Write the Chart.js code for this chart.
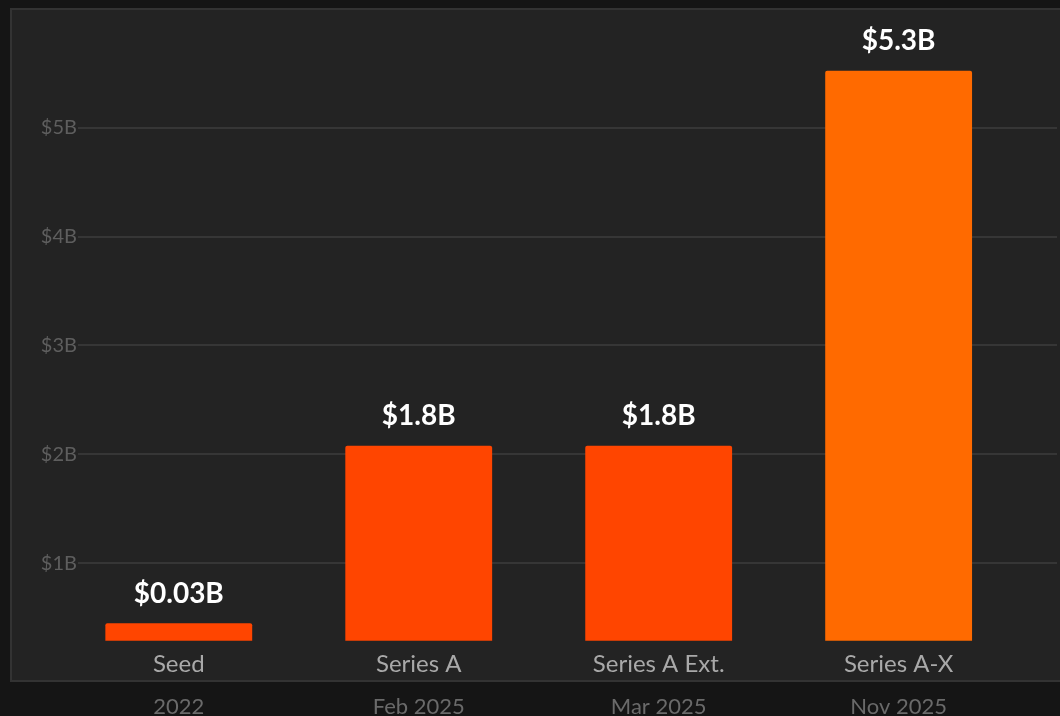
<!DOCTYPE html>
<html>
<head>
<meta charset="utf-8">
<script src="https://cdn.jsdelivr.net/npm/chart.js@4.4.0/dist/chart.umd.min.js"></script>
<style>
    html, body { margin: 0; padding: 0; background: #151515; overflow: hidden; }
    #tarjeta {
        position: absolute; left: 10px; top: 8px; width: 1070px; height: 674px;
        box-sizing: border-box; background: #232323; border: 2px solid #333;
    }
    #contenedor { position: absolute; left: 0; top: 0; width: 1060px; height: 740px; }
</style>
</head>
<body>
<div id="tarjeta"></div>
<div id="contenedor"><canvas id="grafico"></canvas></div>
<script>
// --- Datos ---
const rondas = ["Seed", "Series A", "Series A Ext.", "Series A-X"];
const fechas = ["2022", "Feb 2025", "Mar 2025", "Nov 2025"];
// altura de cada barra leida contra la rejilla en $B
const alturas = [0.45, 2.08, 2.08, 5.52];
const etiquetas = ["$0.03B", "$1.8B", "$1.8B", "$5.3B"];
const colores = ["#ff4500", "#ff4500", "#ff4500", "#ff6a00"];
const ticksY = [1, 2, 3, 4, 5];

const ticksRondas = escala => { escala.ticks = rondas.map((_, i) => ({ value: i })); };

// --- Etiquetas sobre las barras ---
const etiquetasValor = {
    id: "etiquetasValor",
    afterDatasetsDraw(chart) {
        const ctx = chart.ctx;
        ctx.save();
        ctx.fillStyle = "#ffffff";
        ctx.font = "bold 28px Lato";
        ctx.textAlign = "center";
        ctx.textBaseline = "alphabetic";
        chart.getDatasetMeta(0).data.forEach((barra, i) => {
            ctx.fillText(etiquetas[i], barra.x, barra.y - 20.5);
        });
        ctx.restore();
    }
};

// --- Grafico ---
new Chart(document.getElementById("grafico"), {
    type: "bar",
    data: {
        datasets: [{
            data: alturas.map((v, i) => ({ x: i, y: v })),
            backgroundColor: colores,
            borderRadius: 2,
            borderSkipped: false,
            categoryPercentage: 0.68,
            barPercentage: 0.9
        }]
    },
    plugins: [etiquetasValor],
    options: {
        responsive: true,
        maintainAspectRatio: false,
        animation: false,
        layout: { padding: { left: 41, right: 3, top: 24, bottom: 13 } },
        plugins: { legend: { display: false }, tooltip: { enabled: false } },
        scales: {
            x: {
                type: "linear",
                offset: false,
                min: -0.42,
                max: 3.66,
                afterBuildTicks: ticksRondas,
                grid: { display: false, drawTicks: false, offset: false },
                border: { display: false },
                ticks: {
                    maxRotation: 0,
                    autoSkip: false,
                    padding: 9,
                    color: "#a9a9a9",
                    font: { family: "Lato", size: 24 },
                    callback: v => rondas[v]
                }
            },
            x2: {
                type: "linear",
                position: "bottom",
                offset: false,
                min: -0.42,
                max: 3.66,
                afterBuildTicks: ticksRondas,
                grid: { display: false, drawTicks: false, offset: false },
                border: { display: false },
                ticks: {
                    maxRotation: 0,
                    autoSkip: false,
                    padding: 6.5,
                    color: "#6a6a6a",
                    font: { family: "Lato", size: 22 },
                    callback: v => fechas[v]
                }
            },
            y: {
                min: 0.29,
                max: 5.95,
                afterBuildTicks: escala => { escala.ticks = ticksY.map(v => ({ value: v })); },
                afterFit: escala => { escala.width = 37; },
                grid: { color: "#363636", lineWidth: 2, drawTicks: false },
                border: { display: false },
                ticks: {
                    padding: 1,
                    color: "#5e5e5e",
                    font: { family: "Lato", size: 20 },
                    callback: v => "$" + v + "B"
                }
            }
        }
    }
});
</script>
</body>
</html>
